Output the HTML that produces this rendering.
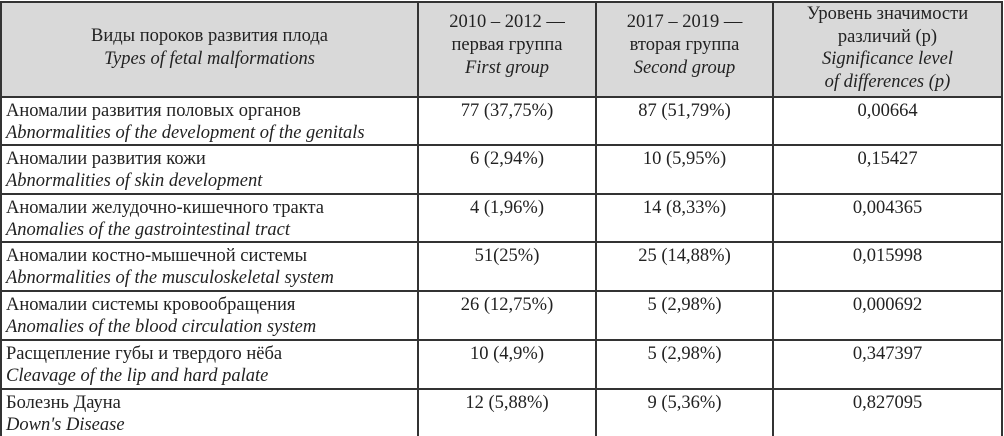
<!DOCTYPE html>
<html><head><meta charset="utf-8">
<style>
body{margin:0;width:1004px;height:436px;overflow:hidden;background:#fff;font-family:"Liberation Serif",serif;color:#222;}
.t{position:absolute;left:0;top:0;width:1004px;height:436px;}
.hd{position:absolute;left:0;top:2px;width:1002px;height:95px;background:#d9d9d9;}
.h{position:absolute;background:#333;height:2px;left:0;width:1003px;}
.v{position:absolute;background:#333;width:2px;top:2px;height:434px;}
.c{position:absolute;font-size:18.5px;line-height:22px;white-space:nowrap;}
.ctr{text-align:center;}
i{font-style:italic;}
</style></head><body>
<div class="t">
<div class="hd"></div>
<div class="h" style="top:1px"></div>
<div class="h" style="top:96px"></div>
<div class="h" style="top:144px"></div>
<div class="h" style="top:193px"></div>
<div class="h" style="top:241px"></div>
<div class="h" style="top:290px"></div>
<div class="h" style="top:339px"></div>
<div class="h" style="top:388px"></div>
<div class="v" style="left:0"></div>
<div class="v" style="left:417px"></div>
<div class="v" style="left:595px"></div>
<div class="v" style="left:772px"></div>
<div class="v" style="left:1001px"></div>

<div class="c ctr" style="left:2px;width:415px;top:25px;line-height:23px">Виды пороков развития плода<br><i>Types of fetal malformations</i></div>
<div class="c ctr" style="left:419px;width:176px;top:11px;line-height:23px">2010 – 2012 —<br>первая группа<br><i>First group</i></div>
<div class="c ctr" style="left:597px;width:175px;top:11px;line-height:23px">2017 – 2019 —<br>вторая группа<br><i>Second group</i></div>
<div class="c ctr" style="left:774px;width:227px;top:3px;line-height:22.5px">Уровень значимости<br>различий (p)<br><i>Significance level<br>of differences (p)</i></div>

<div class="c" style="left:6px;top:100px">Аномалии развития половых органов<br><i>Abnormalities of the development of the genitals</i></div>
<div class="c ctr" style="left:419px;width:176px;top:100px">77 (37,75%)</div>
<div class="c ctr" style="left:597px;width:175px;top:100px">87 (51,79%)</div>
<div class="c ctr" style="left:774px;width:227px;top:100px">0,00664</div>

<div class="c" style="left:6px;top:148px">Аномалии развития кожи<br><i>Abnormalities of skin development</i></div>
<div class="c ctr" style="left:419px;width:176px;top:148px">6 (2,94%)</div>
<div class="c ctr" style="left:597px;width:175px;top:148px">10 (5,95%)</div>
<div class="c ctr" style="left:774px;width:227px;top:148px">0,15427</div>

<div class="c" style="left:6px;top:197px">Аномалии желудочно-кишечного тракта<br><i>Anomalies of the gastrointestinal tract</i></div>
<div class="c ctr" style="left:419px;width:176px;top:197px">4 (1,96%)</div>
<div class="c ctr" style="left:597px;width:175px;top:197px">14 (8,33%)</div>
<div class="c ctr" style="left:774px;width:227px;top:197px">0,004365</div>

<div class="c" style="left:6px;top:245px">Аномалии костно-мышечной системы<br><i>Abnormalities of the musculoskeletal system</i></div>
<div class="c ctr" style="left:419px;width:176px;top:245px">51(25%)</div>
<div class="c ctr" style="left:597px;width:175px;top:245px">25 (14,88%)</div>
<div class="c ctr" style="left:774px;width:227px;top:245px">0,015998</div>

<div class="c" style="left:6px;top:294px">Аномалии системы кровообращения<br><i>Anomalies of the blood circulation system</i></div>
<div class="c ctr" style="left:419px;width:176px;top:294px">26 (12,75%)</div>
<div class="c ctr" style="left:597px;width:175px;top:294px">5 (2,98%)</div>
<div class="c ctr" style="left:774px;width:227px;top:294px">0,000692</div>

<div class="c" style="left:6px;top:343px">Расщепление губы и твердого нёба<br><i>Cleavage of the lip and hard palate</i></div>
<div class="c ctr" style="left:419px;width:176px;top:343px">10 (4,9%)</div>
<div class="c ctr" style="left:597px;width:175px;top:343px">5 (2,98%)</div>
<div class="c ctr" style="left:774px;width:227px;top:343px">0,347397</div>

<div class="c" style="left:6px;top:392px">Болезнь Дауна<br><i>Down's Disease</i></div>
<div class="c ctr" style="left:419px;width:176px;top:392px">12 (5,88%)</div>
<div class="c ctr" style="left:597px;width:175px;top:392px">9 (5,36%)</div>
<div class="c ctr" style="left:774px;width:227px;top:392px">0,827095</div>
</div>
</body></html>
